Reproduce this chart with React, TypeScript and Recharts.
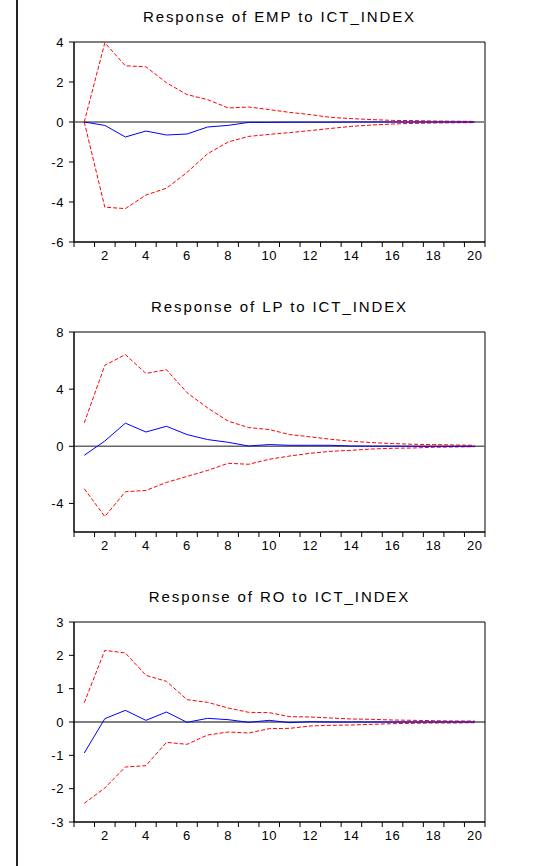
import {
  Line,
  LineChart,
  ReferenceArea,
  ReferenceLine,
  XAxis,
  YAxis,
} from "recharts";

const periods = [1, 2, 3, 4, 5, 6, 7, 8, 9, 10, 11, 12, 13, 14, 15, 16, 17, 18, 19, 20];
const xTicks = [
  0.5, 1, 1.5, 2, 2.5, 3, 3.5, 4, 4.5, 5, 5.5, 6, 6.5, 7, 7.5, 8, 8.5, 9, 9.5, 10, 10.5,
  11, 11.5, 12, 12.5, 13, 13.5, 14, 14.5, 15, 15.5, 16, 16.5, 17, 17.5, 18, 18.5, 19, 19.5, 20, 20.5,
];

// Response of EMP
const empResp = [0, -0.17, -0.75, -0.45, -0.65, -0.6, -0.25, -0.17, -0.02, -0.02, -0.01, -0.01, -0.01, 0, 0, 0, 0, 0, 0, 0];
const empUpper = [0, 3.96, 2.81, 2.76, 1.96, 1.37, 1.12, 0.7, 0.75, 0.62, 0.48, 0.37, 0.23, 0.17, 0.12, 0.08, 0.07, 0.05, 0.04, 0.03];
const empLower = [0, -4.26, -4.33, -3.65, -3.31, -2.52, -1.59, -1.0, -0.72, -0.62, -0.53, -0.43, -0.32, -0.22, -0.15, -0.1, -0.07, -0.05, -0.04, -0.03];
const empTicks = [-6, -4, -2, 0, 2, 4];

// Response of LP
const lpResp = [-0.63, 0.37, 1.62, 1.0, 1.4, 0.82, 0.47, 0.28, 0.02, 0.12, 0.07, 0.07, 0.07, 0.02, 0.01, 0.01, 0, 0, 0, 0];
const lpUpper = [1.64, 5.67, 6.42, 5.1, 5.36, 3.75, 2.69, 1.76, 1.31, 1.17, 0.82, 0.66, 0.49, 0.35, 0.26, 0.19, 0.14, 0.12, 0.09, 0.07];
const lpLower = [-2.97, -4.92, -3.18, -3.09, -2.53, -2.11, -1.69, -1.19, -1.26, -0.91, -0.68, -0.49, -0.35, -0.28, -0.19, -0.14, -0.12, -0.07, -0.05, -0.03];
const lpTicks = [-4, 0, 4, 8];

// Response of RO
const roResp = [-0.93, 0.1, 0.35, 0.05, 0.3, -0.01, 0.11, 0.07, -0.01, 0.05, -0.02, 0.01, 0, 0, 0, 0, 0, 0, 0, 0];
const roUpper = [0.58, 2.15, 2.07, 1.4, 1.22, 0.67, 0.59, 0.42, 0.29, 0.28, 0.16, 0.15, 0.12, 0.09, 0.08, 0.06, 0.05, 0.04, 0.03, 0.03];
const roLower = [-2.44, -1.98, -1.35, -1.31, -0.61, -0.67, -0.39, -0.3, -0.33, -0.2, -0.19, -0.12, -0.1, -0.09, -0.07, -0.05, -0.04, -0.03, -0.03, -0.02];
const roTicks = [-3, -2, -1, 0, 1, 2, 3];

const FONT = '"Liberation Sans", Arial, sans-serif';

function build(resp: number[], upper: number[], lower: number[]) {
  return periods.map((p, i) => ({ p, resp: resp[i], upper: upper[i], lower: lower[i] }));
}

// tick marks sit between periods, labels on even periods
function PeriodTick(props: any) {
  const { x, y, payload } = props;
  const v = payload.value as number;
  if (v % 1 !== 0) {
    return <line x1={x} x2={x} y1={y} y2={y + 5} stroke="#000" strokeWidth={1} />;
  }
  if (v % 2 === 0) {
    return (
      <text x={x} y={y + 18} textAnchor="middle" fontSize={13} fontFamily={FONT} letterSpacing={0.6} fill="#000">
        {v}
      </text>
    );
  }
  return <g />;
}

interface PanelProps {
  title: string;
  top: number;
  data: { p: number; resp: number; upper: number; lower: number }[];
  domain: [number, number];
  ticks: number[];
  zeroColor: string;
  zeroWidth: number;
}

function Panel({ title, top, data, domain, ticks, zeroColor, zeroWidth }: PanelProps) {
  return (
    <div style={{ position: "absolute", left: 0, top, width: 543, height: 290 }}>
      <div
        style={{
          position: "absolute",
          left: 74,
          width: 411,
          top: 8,
          textAlign: "center",
          fontFamily: FONT,
          fontSize: 15,
          letterSpacing: 1.9,
          lineHeight: "18px",
          color: "#000",
        }}
      >
        {title}
      </div>
      <LineChart width={543} height={290} data={data} margin={{ top: 42, right: 58, bottom: 28, left: 0 }}>
        <XAxis
          dataKey="p"
          type="number"
          domain={[0.5, 20.5]}
          ticks={xTicks}
          interval={0}
          tick={<PeriodTick />}
          tickLine={false}
          tickSize={0}
          tickMargin={0}
          height={20}
          axisLine={{ stroke: "#000" }}
        />
        <YAxis
          type="number"
          domain={domain}
          ticks={ticks}
          interval={0}
          width={74}
          tickSize={5}
          tickMargin={5}
          tickLine={{ stroke: "#000" }}
          axisLine={{ stroke: "#000" }}
          tick={{ fontSize: 13, fontFamily: FONT, fill: "#000", letterSpacing: 0.6 }}
        />
        <ReferenceArea
          x1={0.5}
          x2={20.5}
          y1={domain[0]}
          y2={domain[1]}
          fill="none"
          fillOpacity={0}
          stroke="#000"
          strokeWidth={1}
          ifOverflow="visible"
        />
        <ReferenceLine y={0} stroke={zeroColor} strokeWidth={zeroWidth} />
        <Line dataKey="upper" stroke="#ff0000" strokeWidth={1} strokeDasharray="4 2" dot={false} isAnimationActive={false} />
        <Line dataKey="lower" stroke="#ff0000" strokeWidth={1} strokeDasharray="4 2" dot={false} isAnimationActive={false} />
        <Line dataKey="resp" stroke="#0000ff" strokeWidth={1} dot={false} isAnimationActive={false} />
      </LineChart>
    </div>
  );
}

export default function App() {
  return (
    <div style={{ position: "absolute", left: 0, top: 0, width: 543, height: 866, background: "#fff" }}>
      <div style={{ position: "absolute", left: 16, top: 0, width: 2, height: 866, background: "#222" }} />
      <Panel
        title="Response of EMP to ICT_INDEX"
        top={0}
        data={build(empResp, empUpper, empLower)}
        domain={[-6, 4]}
        ticks={empTicks}
        zeroColor="#888888"
        zeroWidth={2}
      />
      <Panel
        title="Response of LP to ICT_INDEX"
        top={290}
        data={build(lpResp, lpUpper, lpLower)}
        domain={[-6, 8]}
        ticks={lpTicks}
        zeroColor="#666666"
        zeroWidth={1.5}
      />
      <Panel
        title="Response of RO to ICT_INDEX"
        top={580}
        data={build(roResp, roUpper, roLower)}
        domain={[-3, 3]}
        ticks={roTicks}
        zeroColor="#000000"
        zeroWidth={1}
      />
    </div>
  );
}
